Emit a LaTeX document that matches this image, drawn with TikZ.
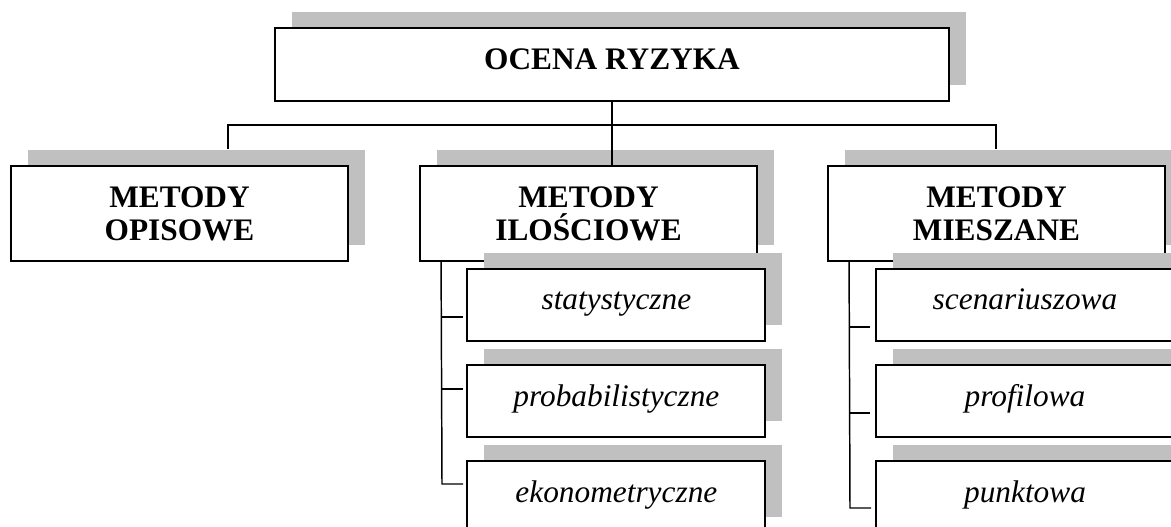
\documentclass[tikz,border=0pt]{standalone}
\usepackage{fontspec}
\setmainfont{Liberation Serif}
\usetikzlibrary{shadows}
\definecolor{shadowgray}{RGB}{192,192,192}
\tikzset{
  box/.style={draw=black, line width=1.4pt, fill=white, inner sep=0pt,
    drop shadow={shadow xshift=12.4pt, shadow yshift=12pt, fill=shadowgray, opacity=1}},
  topbox/.style={box, minimum width=505.5pt, minimum height=54.75pt,
    font=\fontsize{23.5}{28}\selectfont\bfseries, text height=15pt, text depth=6.75pt},
  headbox/.style={box, minimum width=252.75pt, minimum height=71.25pt, align=center,
    font=\fontsize{23.5}{24.75}\selectfont\bfseries},
  subbox/.style={box, minimum width=223.5pt, minimum height=54pt,
    font=\fontsize{23.5}{28}\selectfont\itshape, text height=15pt, text depth=7.5pt},
  conn/.style={line width=1.1pt},
}
\begin{document}
\begin{tikzpicture}[x=0.75pt,y=-0.75pt]
\path[use as bounding box] (0,0) rectangle (1171,527);
\clip (0,0) rectangle (1171,527);

\node[topbox] (top) at (612,64.5) {OCENA RYZYKA};
\node[headbox] (opis) at (179.5,213.5) {METODY\\OPISOWE};
\node[headbox] (ilosc) at (588.5,213.5) {METODY\\ILOŚCIOWE};
\node[headbox] (miesz) at (996.5,213.5) {METODY\\MIESZANE};

\node[subbox] (stat) at (616.4,305) {statystyczne};
\node[subbox] (prob) at (616.4,401) {probabilistyczne};
\node[subbox] (eko) at (616.4,497) {ekonometryczne};
\node[subbox] (scen) at (1025,305) {scenariuszowa};
\node[subbox] (prof) at (1025,401) {profilowa};
\node[subbox] (punk) at (1025,497) {punktowa};

% top level connectors
\coordinate (hub) at (612,125);
\coordinate (lend) at (228,149);
\coordinate (rend) at (996,149);
\draw[conn] (lend) |- (hub) -| (rend);
\draw[line width=0.8pt] (top.south) -- (top.south |- ilosc.north);

% left column
\coordinate (lv) at (442,484);
\coordinate (ls1) at (442,317);
\coordinate (ls2) at (442,389);
\coordinate (le1) at (463,317);
\coordinate (le2) at (463,389);
\coordinate (le3) at (463,484);
\draw[conn] ([xshift=16.5pt]ilosc.south west) -- (lv) -- (le3);
\draw[conn] (ls1) -- (le1);
\draw[conn] (ls2) -- (le2);

% right column
\coordinate (rv) at (850,508);
\coordinate (rs1) at (850,327);
\coordinate (rs2) at (850,413);
\coordinate (re1) at (870,327);
\coordinate (re2) at (870,413);
\coordinate (re3) at (871,508);
\draw[conn] ([xshift=16.5pt]miesz.south west) -- (rv) -- (re3);
\draw[conn] (rs1) -- (re1);
\draw[conn] (rs2) -- (re2);
\end{tikzpicture}
\end{document}
